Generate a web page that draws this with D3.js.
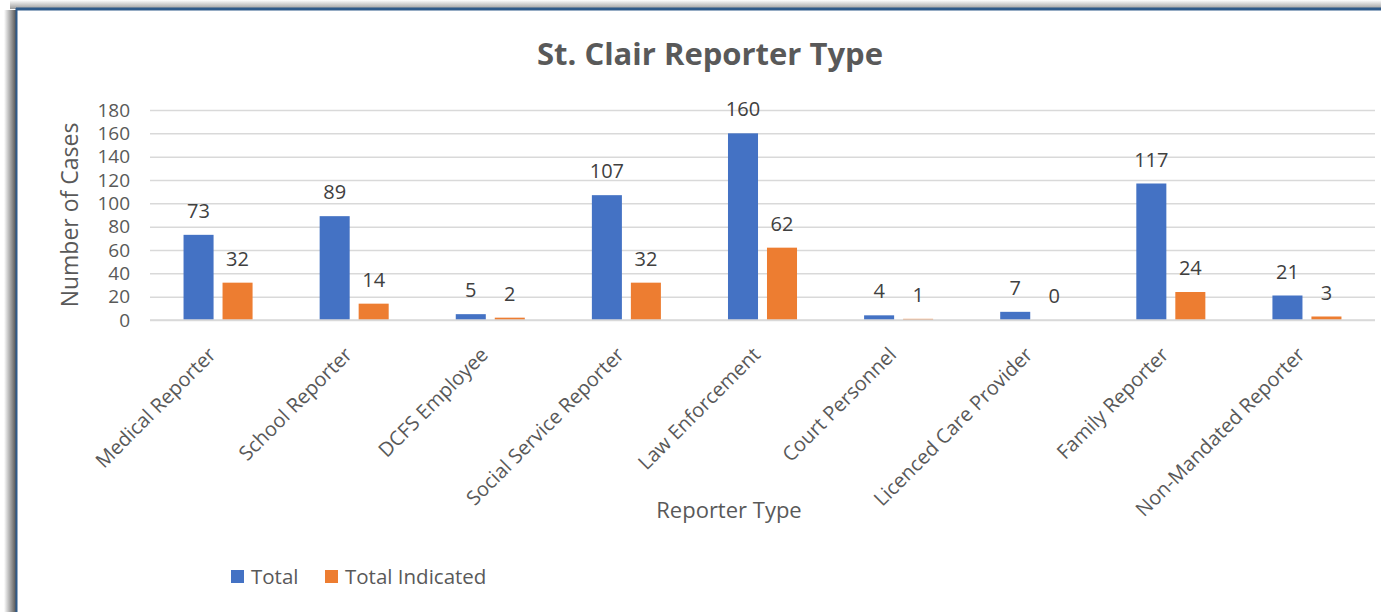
<!DOCTYPE html>
<html>
<head>
<meta charset="utf-8">
<script src="https://cdn.jsdelivr.net/npm/d3@7"></script>
<style>
    body { margin: 0; background: #fff; }
    svg { display: block; font-family: "Open Sans", sans-serif; }
</style>
</head>
<body>
<div id="main"></div>
<script>
const categories = ["Medical Reporter", "School Reporter", "DCFS Employee", "Social Service Reporter",
    "Law Enforcement", "Court Personnel", "Licenced Care Provider", "Family Reporter", "Non-Mandated Reporter"];
const seriesNames = ["Total", "Total Indicated"];
const total = [73, 89, 5, 107, 160, 4, 7, 117, 21];
const totalIndicated = [32, 14, 2, 32, 62, 1, 0, 24, 3];
const yTicks = [0, 20, 40, 60, 80, 100, 120, 140, 160, 180];
const colors = ["#4472C4", "#ED7D31"];

const width = 1381;
const height = 612;
const margin = ({ top: 110, right: 6, bottom: 292, left: 150 });
const font = "'Open Sans', sans-serif";

const svg = d3.create("svg")
    .attr("width", width)
    .attr("height", height);

// card frame with shadow
const defs = svg.append("defs");
const gl = defs.append("linearGradient").attr("id", "shL").attr("x1", 0).attr("x2", 1);
gl.append("stop").attr("offset", 0).attr("stop-color", "#fff");
gl.append("stop").attr("offset", 1).attr("stop-color", "#555");
const gt = defs.append("linearGradient").attr("id", "shT").attr("x1", 0).attr("x2", 0).attr("y1", 0).attr("y2", 1);
gt.append("stop").attr("offset", 0).attr("stop-color", "#fff");
gt.append("stop").attr("offset", 1).attr("stop-color", "#999");

svg.append("rect").attr("x", 4).attr("y", 10).attr("width", 12).attr("height", height)
    .attr("fill", "url(#shL)");
svg.append("rect").attr("x", 10).attr("y", 0).attr("width", width).attr("height", 9)
    .attr("fill", "url(#shT)");
svg.append("rect").attr("x", 16).attr("y", 8).attr("width", width).attr("height", height)
    .attr("fill", "#fff");
svg.append("line").attr("x1", 16).attr("x2", width).attr("y1", 9).attr("y2", 9)
    .attr("stroke", "#2f5a8a").attr("stroke-width", 3);
svg.append("line").attr("x1", 16.5).attr("x2", 16.5).attr("y1", 8).attr("y2", height)
    .attr("stroke", "#2f5a8a").attr("stroke-width", 2);

const x = d3.scaleBand()
    .domain(categories)
    .range([margin.left, width - margin.right]);

const x1 = d3.scaleBand()
    .domain(seriesNames)
    .range([0, x.bandwidth()])
    .paddingInner(0.23)
    .paddingOuter(0.86);

const y = d3.scaleLinear()
    .domain([0, 180])
    .range([height - margin.bottom, margin.top]);

// gridlines
svg.append("g")
    .attr("transform", `translate(${margin.left},0)`)
    .call(d3.axisLeft(y).tickValues(yTicks).tickSize(-(width - margin.right - margin.left)).tickFormat(""))
    .call(g => g.select(".domain").remove())
    .call(g => g.selectAll(".tick line").attr("stroke", "#d9d9d9").attr("stroke-width", 1.5));

// y tick labels
svg.append("g")
    .attr("transform", `translate(${margin.left - 20},0)`)
    .call(d3.axisLeft(y).tickValues(yTicks).tickSize(0).tickPadding(0))
    .call(g => g.select(".domain").remove())
    .call(g => g.selectAll("text")
        .attr("fill", "#595959")
        .attr("font-size", 19)
        .attr("font-family", font));

const data = categories.map((c, i) => ({ cat: c, values: [total[i], totalIndicated[i]] }));

const groups = svg.append("g")
    .selectAll("g")
    .data(data)
    .join("g")
    .attr("transform", d => `translate(${x(d.cat)},0)`);

groups.selectAll("rect")
    .data(d => d.values.map((v, j) => ({ key: seriesNames[j], v, j })))
    .join("rect")
    .attr("x", d => x1(d.key))
    .attr("y", d => y(d.v))
    .attr("width", x1.bandwidth())
    .attr("height", d => y(0) - y(d.v))
    .attr("fill", d => colors[d.j]);

groups.selectAll("text")
    .data(d => d.values.map((v, j) => ({ key: seriesNames[j], v, j })))
    .join("text")
    .attr("x", d => x1(d.key) + x1.bandwidth() / 2)
    .attr("y", d => y(d.v) - 17)
    .attr("text-anchor", "middle")
    .attr("font-size", 20)
    .attr("fill", "#404040")
    .text(d => d.v);

// x axis category labels
svg.append("g")
    .attr("transform", `translate(0,${y(0)})`)
    .call(d3.axisBottom(x).tickSize(0).tickPadding(0))
    .call(g => g.select(".domain").remove())
    .call(g => g.selectAll("text")
        .attr("font-size", 20)
        .attr("fill", "#595959")
        .attr("font-family", font)
        .attr("text-anchor", "end")
        .attr("dy", 0)
        .attr("transform", "translate(-1,36) rotate(-45)"));

// baseline
svg.append("line")
    .attr("x1", margin.left).attr("x2", width - margin.right)
    .attr("y1", y(0)).attr("y2", y(0))
    .attr("stroke", "#d9d9d9").attr("stroke-width", 1.5);

// title
svg.append("text")
    .attr("x", 710).attr("y", 65)
    .attr("text-anchor", "middle")
    .attr("font-size", 31)
    .attr("font-weight", "bold")
    .attr("fill", "#595959")
    .text("St. Clair Reporter Type");

// axis titles
svg.append("text")
    .attr("transform", `translate(78,${(y(0) + y(180)) / 2}) rotate(-90)`)
    .attr("text-anchor", "middle")
    .attr("font-size", 23)
    .attr("fill", "#595959")
    .text("Number of  Cases");

svg.append("text")
    .attr("x", 729).attr("y", 518)
    .attr("text-anchor", "middle")
    .attr("font-size", 22)
    .attr("fill", "#595959")
    .text("Reporter Type");

// legend
const legendX = [231, 325];
const legend = svg.append("g")
    .selectAll("g")
    .data(seriesNames)
    .join("g")
    .attr("transform", (d, i) => `translate(${legendX[i]},570)`);

legend.append("rect")
    .attr("width", 13).attr("height", 13)
    .attr("fill", (d, i) => colors[i]);

legend.append("text")
    .attr("x", 20).attr("y", 14)
    .attr("font-size", 20.5)
    .attr("fill", "#595959")
    .text(d => d);

d3.select("#main").append(() => svg.node());
</script>
</body>
</html>
